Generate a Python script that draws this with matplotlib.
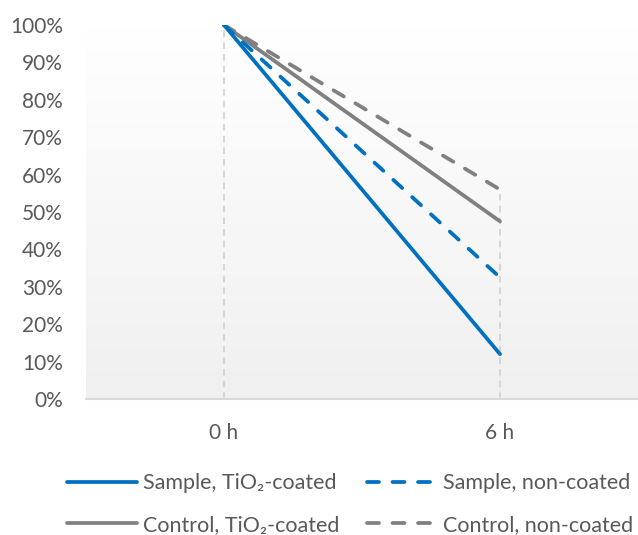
import matplotlib
matplotlib.use("Agg")
import matplotlib.pyplot as plt
import numpy as np
from matplotlib.ticker import PercentFormatter

categories = ["0 h", "6 h"]
sample_coated = [100, 12]
sample_non = [100, 32.5]
control_coated = [100, 47.5]
control_non = [100, 56]
labels = ["Sample, TiO₂-coated", "Sample, non-coated", "Control, TiO₂-coated", "Control, non-coated"]

blue = "#0070C0"
gray = "#808080"
txt = "#595959"

plt.rcParams['font.family'] = ['Lato', 'DejaVu Sans']

W, H = 638, 535
fig = plt.figure(figsize=(W/100, H/100), dpi=100)
ax = fig.add_axes([86/W, 1-399/H, (638-86)/W, (399-25)/H])

x = np.arange(len(categories))
ax.set_xlim(-0.5, 1.5)
ax.set_ylim(0, 100)

# gradient background: white at top, light gray at bottom
t = np.linspace(0, 1, 256).reshape(-1, 1, 1)  # 0 bottom -> 1 top (origin lower)
c_top = np.array([1.0, 1.0, 1.0])
c_bot = np.array([0xf0, 0xf0, 0xf0]) / 255
img = c_bot * (1 - t) + c_top * t
ax.imshow(img, extent=[-0.5, 1.5, 0, 100], aspect='auto', zorder=0, origin='lower')

# drop lines
series = [sample_coated, sample_non, control_coated, control_non]
for i in range(len(categories)):
    top = max(s[i] for s in series)
    ax.plot([x[i], x[i]], [0, top], color="#d0d0d0", lw=1.2, ls=(0, (4, 3)), zorder=1)

lw = 2.7
dash = (0, (3.2, 3.6))
l1, = ax.plot(x, sample_coated, color=blue, lw=lw, solid_capstyle='round', zorder=3)
l2, = ax.plot(x, sample_non, color=blue, lw=lw, ls=dash, dash_capstyle='round', zorder=3)
l3, = ax.plot(x, control_coated, color=gray, lw=lw, solid_capstyle='round', zorder=2)
l4, = ax.plot(x, control_non, color=gray, lw=lw, ls=dash, dash_capstyle='round', zorder=2)

ax.set_xticks(x)
ax.set_xticklabels(categories)
ax.set_yticks(np.arange(0, 101, 10))
ax.yaxis.set_major_formatter(PercentFormatter(decimals=0))
ax.tick_params(axis='both', length=0, labelsize=15, colors=txt)
ax.tick_params(axis='x', pad=17)
ax.tick_params(axis='y', pad=16.5)
for sp in ["top", "right", "left"]:
    ax.spines[sp].set_visible(False)
ax.spines["bottom"].set_color("#d9d9d9")
ax.spines["bottom"].set_linewidth(1.5)

leg = fig.legend([l1, l3, l2, l4], [labels[0], labels[2], labels[1], labels[3]],
                 ncol=2, loc='center',
                 bbox_to_anchor=(350/W, 1-504/H), frameon=False, fontsize=15.5,
                 handlelength=3.25, handletextpad=0.28, columnspacing=1.3,
                 labelspacing=1.0, labelcolor=txt, borderpad=0.2)

fig.savefig("out.png", dpi=100)
